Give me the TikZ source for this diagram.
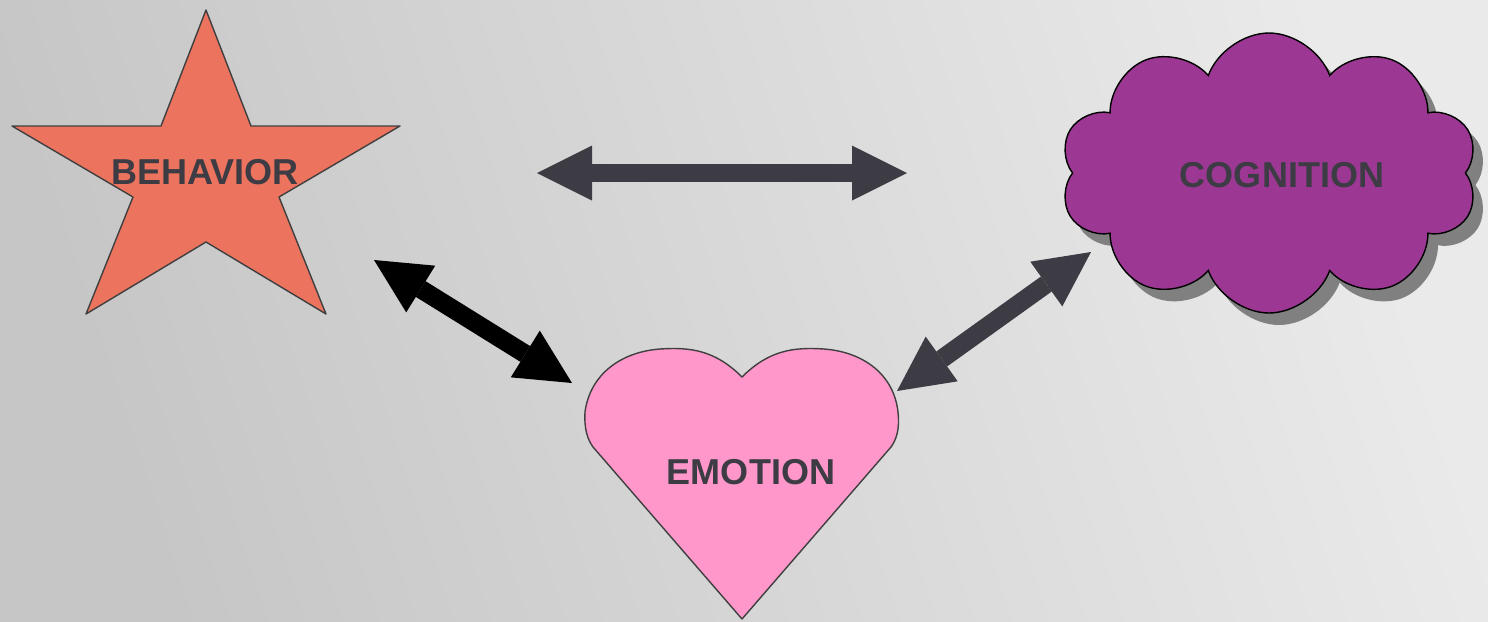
\documentclass[tikz,border=0pt]{standalone}
\usepackage{fontspec}
\setmainfont{Liberation Sans}
\usetikzlibrary{arrows.meta,shapes.symbols,shadows}
\definecolor{inkgray}{HTML}{3D3C44}
\definecolor{edgegray}{HTML}{404040}
\definecolor{starred}{HTML}{EC735E}
\definecolor{heartpink}{HTML}{FF97CB}
\definecolor{cloudpurple}{HTML}{9C3893}
\definecolor{bgdark}{HTML}{C6C6C6}
\definecolor{bglight}{HTML}{EAEAEA}
\begin{document}
\begin{tikzpicture}[x=0.2mm, y=-0.2mm,
  lbl/.style={font=\bfseries\fontsize{20.5}{24}\selectfont, text=inkgray, inner sep=0pt},
  shp/.style={draw=edgegray, line width=0.8pt, line join=round},
  barr/.style={{Triangle[length=1.1cm, width=1.1cm, line width=0pt]}-{Triangle[length=1.1cm, width=1.1cm, line width=0pt]}, line width=0.37cm, draw=inkgray}]
\shade[top color=bglight, bottom color=bgdark, shading angle=-72] (0,0) rectangle (1488,621);
\useasboundingbox (0,0) rectangle (1488,621);
% star
\draw[shp, fill=starred] (206,10) -- (251,126) -- (400,126) -- (279,197) -- (326,314) -- (206,242)
  -- (86,314) -- (133,197) -- (12,126) -- (161,126) -- cycle;
\node[lbl] (behav) at (205,172) {BEHAVIOR};
% cloud
\node[cloud, cloud puffs=10, cloud puff arc=140, cloud ignores aspect, draw=black, line width=0.8pt,
  fill=cloudpurple, minimum width=8.36cm, minimum height=5.6cm,
  drop shadow={shadow xshift=0.2cm, shadow yshift=-0.24cm, fill=black!50, opacity=1}] (cogn) at (1269,173) {};
\node[lbl] (cognlbl) at (1282,175) {COGNITION};
% heart
\draw[shp, fill=heartpink] (742,377) .. controls (715,350) and (690,347) .. (660,349)
  .. controls (620,352) and (590,375) .. (585,412) .. controls (584,430) and (588,440) .. (593,447)
  -- (742,619) -- (891,447) .. controls (896,440) and (900,430) .. (898,412)
  .. controls (894,375) and (864,352) .. (824,349) .. controls (794,347) and (769,350) .. cycle;
\node[lbl] (emot) at (751,472) {EMOTION};
% arrows
\coordinate (bcL) at (537,173);
\coordinate (bcR) at (907,173);
\coordinate (beA) at (374,260);
\coordinate (beB) at (572,383);
\coordinate (ecA) at (897,391);
\coordinate (ecB) at (1091,252);
\draw[barr] (bcL) -- (bcR);
\draw[barr, draw=black] (beA) -- (beB);
\draw[barr] (ecA) -- (ecB);
\end{tikzpicture}
\end{document}
